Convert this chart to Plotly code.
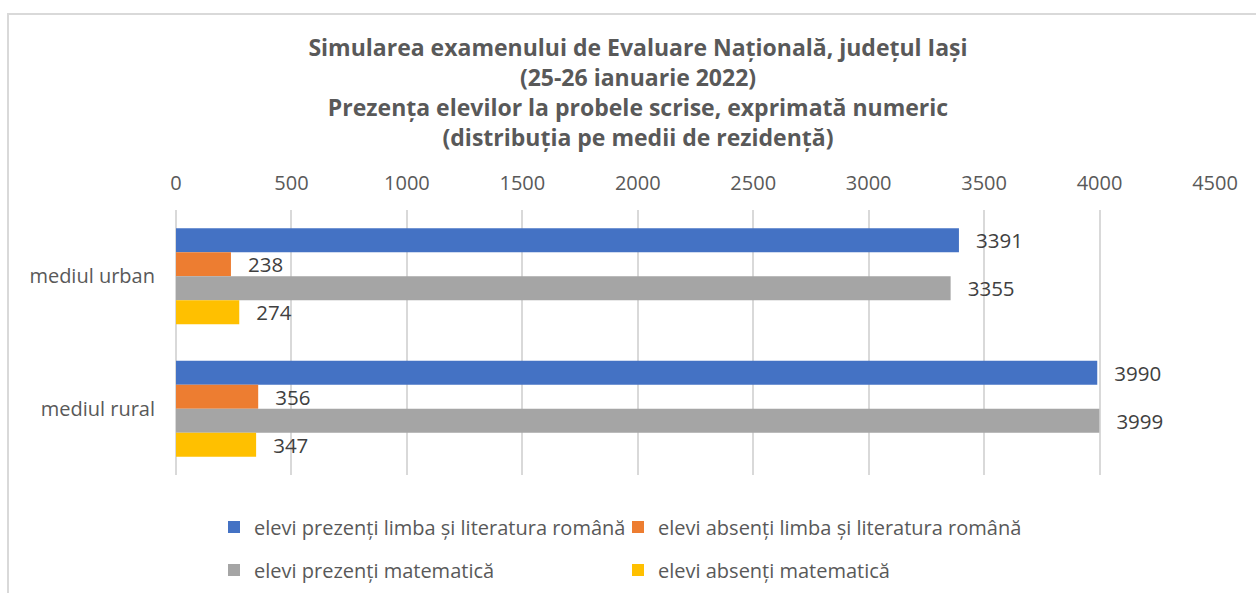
import plotly.graph_objects as go

categories = ["mediul urban", "mediul rural"]
series_names = [
    "elevi prezenți limba și literatura română",
    "elevi absenți limba și literatura română",
    "elevi prezenți matematică",
    "elevi absenți matematică",
]
prezenti_romana = [3391, 3990]
absenti_romana = [238, 356]
prezenti_mate = [3355, 3999]
absenti_mate = [274, 347]
tick_values = [0, 500, 1000, 1500, 2000, 2500, 3000, 3500, 4000, 4500]

colors = ["#4472C4", "#ED7D31", "#A5A5A5", "#FFC000"]
series_values = [prezenti_romana, absenti_romana, prezenti_mate, absenti_mate]
legends = ["legend", "legend", "legend2", "legend2"]

W, H = 1256, 593
L, R, T, B = 176, 1215, 210, 475  # plot area pixels


def px(x):
    return (x - L) / (R - L)


def py(y):
    return (B - y) / (B - T)


FONT = "Open Sans"
fig = go.Figure()
for name, vals, col, lg in zip(series_names, series_values, colors, legends):
    fig.add_trace(go.Bar(
        y=categories, x=vals, name=name, orientation="h",
        marker=dict(color=col, line=dict(width=0)),
        text=[f"\u00a0\u00a0\u2009{v}" for v in vals],
        textposition="outside", cliponaxis=False, constraintext="none",
        textfont=dict(family=FONT, size=20.5, color="#404040"),
        legend=lg,
    ))

fig.update_layout(
    width=W, height=H,
    margin=dict(l=L, r=W - R, t=T, b=H - B, autoexpand=False),
    paper_bgcolor="white", plot_bgcolor="white",
    barmode="group", bargap=0.275, bargroupgap=0,
    font=dict(family=FONT, color="#595959"),
    title=dict(
        text="Simularea examenului de Evaluare Națională, județul Iași<br>(25-26 ianuarie 2022)<br>Prezența elevilor la probele scrise, exprimată numeric<br>(distribuția pe medii de rezidență)",
        x=638 / W, xanchor="center", xref="container",
        y=1 - 56 / H, yanchor="top", yref="container",
        font=dict(family=FONT, size=23, color="#595959", weight="bold"),
    ),
    xaxis=dict(
        side="top", range=[0, 4500], tickvals=tick_values,
        showgrid=True, gridcolor="#D9D9D9", gridwidth=1.5,
        zeroline=True, zerolinecolor="#D9D9D9", zerolinewidth=1.5,
        showline=False, ticks="", ticklabelstandoff=15,
        tickfont=dict(family=FONT, size=20, color="#595959"),
    ),
    yaxis=dict(
        autorange="reversed", showgrid=False, showline=False, ticks="",
        ticklabelstandoff=20,
        tickfont=dict(family=FONT, size=20, color="#595959"),
    ),
    legend=dict(
        orientation="h", x=px(214), xanchor="left", y=py(527), yanchor="middle",
        entrywidth=359, entrywidthmode="pixels",
        font=dict(family=FONT, size=20, color="#595959"), bgcolor="rgba(0,0,0,0)",
    ),
    legend2=dict(
        orientation="h", x=px(214), xanchor="left", y=py(570), yanchor="middle",
        entrywidth=359, entrywidthmode="pixels",
        font=dict(family=FONT, size=20, color="#595959"), bgcolor="rgba(0,0,0,0)",
    ),
    showlegend=True,
)

fig.add_shape(
    type="path", xref="paper", yref="paper",
    path=f"M {px(8)} {py(620)} L {px(8)} {py(14)} L {px(1280)} {py(14)}",
    line=dict(color="#D9D9D9", width=2),
)

fig.write_html("out.html", config={"displayModeBar": False},
               post_script="document.body.style.margin='0';")
